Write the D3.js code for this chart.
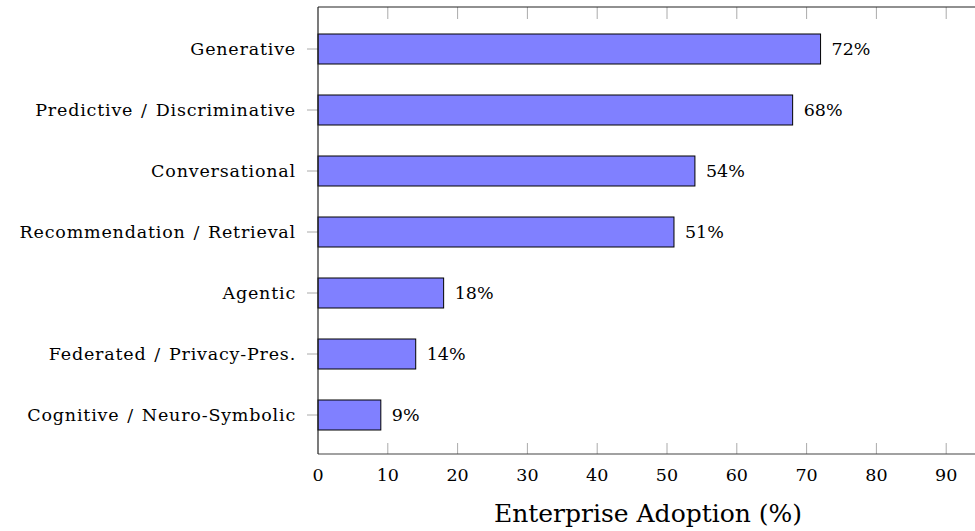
<!DOCTYPE html>
<html>
<head>
<meta charset="utf-8">
<script src="https://cdn.jsdelivr.net/npm/d3@7"></script>
<style>
  html, body { margin: 0; padding: 0; background: #fff; }
  svg text { font-family: "DejaVu Serif", "Liberation Serif", serif; fill: #000; }
</style>
</head>
<body>
<svg id="chart" width="975" height="531"></svg>
<script>
const categories = ["Generative", "Predictive / Discriminative", "Conversational", "Recommendation / Retrieval", "Agentic", "Federated / Privacy-Pres.", "Cognitive / Neuro-Symbolic"];
const adoption = [72, 68, 54, 51, 18, 14, 9];
const xTicks = [0, 10, 20, 30, 40, 50, 60, 70, 80, 90];
const xMax = 100;
const xTitle = "Enterprise Adoption (%)";

(function () {
const svg = d3.select("#chart");
const pLeft = 318, pRight = 1016, pTop = 7, pBottom = 454;
const x = d3.scaleLinear().domain([0, xMax]).range([pLeft, pRight]);
const y = d3.scalePoint().domain(categories).range([49, 415]);
const barH = 30;
const tickLen = 11;
const fs = 17.5;

const g = svg.append("g");
g.selectAll("line.tb").data(xTicks.slice(1)).join("line")
  .attr("x1", d => x(d)).attr("x2", d => x(d))
  .attr("y1", pBottom).attr("y2", pBottom - tickLen)
  .attr("stroke", "#aaa").attr("stroke-width", 1);
g.selectAll("line.tt").data(xTicks.slice(1)).join("line")
  .attr("x1", d => x(d)).attr("x2", d => x(d))
  .attr("y1", pTop).attr("y2", pTop + tickLen + 1)
  .attr("stroke", "#aaa").attr("stroke-width", 1);

g.selectAll("line.yt").data(categories).join("line")
  .attr("x1", pLeft - tickLen).attr("x2", pLeft)
  .attr("y1", d => y(d)).attr("y2", d => y(d))
  .attr("stroke", "#aaa").attr("stroke-width", 1);

svg.append("g").selectAll("rect").data(categories).join("rect")
  .attr("x", x(0))
  .attr("y", d => y(d) - barH / 2)
  .attr("width", (d, i) => x(adoption[i]) - x(0))
  .attr("height", barH)
  .attr("fill", "#8080ff")
  .attr("stroke", "#000")
  .attr("stroke-width", 1);

svg.append("g").selectAll("text").data(categories).join("text")
  .attr("x", (d, i) => x(adoption[i]) + 11)
  .attr("y", d => y(d))
  .attr("dy", "0.36em")
  .attr("font-size", fs)
  .text((d, i) => adoption[i] + "%");

svg.append("line").attr("x1", pLeft).attr("x2", pRight).attr("y1", pTop).attr("y2", pTop).attr("stroke", "#222").attr("stroke-width", 1.2);
svg.append("line").attr("x1", pLeft).attr("x2", pRight).attr("y1", pBottom).attr("y2", pBottom).attr("stroke", "#444").attr("stroke-width", 1.2);
svg.append("line").attr("x1", pLeft).attr("x2", pLeft).attr("y1", pTop).attr("y2", pBottom).attr("stroke", "#222").attr("stroke-width", 1.2);

svg.append("g").selectAll("text").data(categories).join("text")
  .attr("x", pLeft - 22)
  .attr("y", d => y(d))
  .attr("dy", "0.36em")
  .attr("text-anchor", "end")
  .attr("font-size", fs)
  .attr("letter-spacing", 0.8)
  .attr("word-spacing", 1.5)
  .text(d => d);

svg.append("g").selectAll("text").data(xTicks).join("text")
  .attr("x", d => x(d))
  .attr("y", 481)
  .attr("text-anchor", "middle")
  .attr("font-size", fs)
  .text(d => d);

svg.append("text")
  .attr("x", 648).attr("y", 522)
  .attr("text-anchor", "middle")
  .attr("font-size", 25)
  .text(xTitle);
})();
</script>
</body>
</html>
